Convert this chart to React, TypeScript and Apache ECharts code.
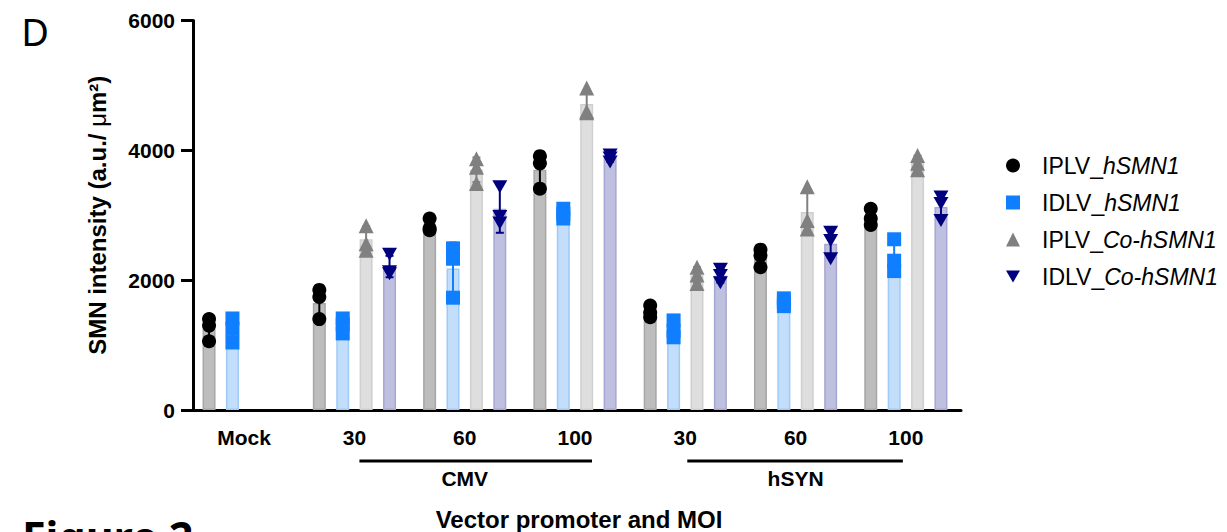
import React, { useEffect, useRef } from 'react';
import * as echarts from 'echarts';

// ---------- data ----------
const categories = ['Mock', 'CMV 30', 'CMV 60', 'CMV 100', 'hSYN 30', 'hSYN 60', 'hSYN 100'];
const tickLabels = ['Mock', '30', '60', '100', '30', '60', '100'];

const promoterLabels = ['CMV', 'hSYN'];
const promoterFirst = [1, 4];
const promoterMid = [2, 5];
const promoterLast = [3, 6];

const seriesNames = ['IPLV_hSMN1', 'IDLV_hSMN1', 'IPLV_Co-hSMN1', 'IDLV_Co-hSMN1'];
const namePlain = ['IPLV_', 'IDLV_', 'IPLV_', 'IDLV_'];
const nameItalic = ['hSMN1', 'hSMN1', 'Co-hSMN1', 'Co-hSMN1'];

const iplvMean = [1250, 1650, 2830, 3700, 1510, 2350, 2960];
const idlvMean = [1230, 1300, 2180, 3020, 1240, 1660, 2350];
const iplvCoMean = [null, 2630, 3700, 4713, 2077, 3050, 3807];
const idlvCoMean = [null, 2210, 3100, 3880, 2067, 2560, 3126];

const iplvSd = [175, 235, 95, 260, 90, 137, 126];
const idlvSd = [185, 116, 400, 75, 130, 60, 250];
const iplvCoSd = [null, 200, 190, 215, 125, 340, 110];
const idlvCoSd = [null, 165, 370, 55, 105, 210, 185];

const iplvPoints = [
  [1400, 1300, 1060],
  [1850, 1740, 1400],
  [2950, 2800, 2770],
  [3910, 3800, 3410],
  [1610, 1500, 1430],
  [2470, 2380, 2200],
  [3100, 2950, 2850],
];
const idlvPoints = [
  [1410, 1250, 1040],
  [1410, 1320, 1180],
  [2490, 2330, 1730],
  [3100, 3020, 2950],
  [1380, 1220, 1120],
  [1720, 1660, 1600],
  [2630, 2300, 2140],
];
const iplvCoPoints = [
  [],
  [2840, 2560, 2460],
  [3870, 3740, 3490],
  [4960, 4600, 4580],
  [2200, 2080, 1950],
  [3440, 2920, 2790],
  [3920, 3800, 3700],
];
const idlvCoPoints = [
  [],
  [2400, 2130, 2100],
  [3440, 2980, 2880],
  [3930, 3880, 3820],
  [2170, 2070, 1960],
  [2740, 2610, 2330],
  [3280, 3180, 2920],
];

const means = [iplvMean, idlvMean, iplvCoMean, idlvCoMean];
const sds = [iplvSd, idlvSd, iplvCoSd, idlvCoSd];
const points = [iplvPoints, idlvPoints, iplvCoPoints, idlvCoPoints];

// ---------- styles ----------
const FONT = '"Liberation Sans", Arial, Helvetica, sans-serif';
const barFill = ['#bdbdbd', '#c3defb', '#dedede', '#bfbfe0'];
const barBorder = ['#a6a6a6', '#9fcaf8', '#cfcfcf', '#a6a6d4'];
const markerColor = ['#000000', '#0f7fff', '#808080', '#00007f'];
const markerSymbol = ['circle', 'rect', 'triangle', 'path://M0,0L14,0L7,12Z'];
const markerSize: any[] = [14, 14, 15, [15, 13]];
const BAR_W = 13;
const SLOT = 23.4;
const slotOffset = (k: number) => (k - 1.5) * SLOT;

export default function App() {
  const ref = useRef<HTMLDivElement>(null);

  useEffect(() => {
    if (!ref.current) return;
    const chart = echarts.init(ref.current, null, { renderer: 'svg' });

    const barSeries = means.map((m, s) => ({
      type: 'bar',
      name: 'bar ' + seriesNames[s],
      data: m,
      barWidth: BAR_W,
      barGap: ((SLOT - BAR_W) / BAR_W) * 100 + '%',
      itemStyle: { color: barFill[s], borderColor: barBorder[s], borderWidth: 1.5 },
      z: 2,
      silent: true,
    }));

    const errSeries = means.map((m, s) => ({
      type: 'custom',
      name: 'err ' + seriesNames[s],
      z: 4,
      silent: true,
      encode: { x: 0, y: [1, 2] },
      data: m
        .map((v, i) => (v == null ? null : [i, v - (sds[s][i] as number), v + (sds[s][i] as number)]))
        .filter((d) => d != null),
      renderItem: (params: any, api: any) => {
        const i = api.value(0);
        const top = api.coord([i, api.value(2)]);
        const bot = api.coord([i, api.value(1)]);
        const x = top[0] + slotOffset(s);
        const cap = 4;
        const st = { stroke: markerColor[s], lineWidth: 2 };
        return {
          type: 'group',
          children: [
            { type: 'line', shape: { x1: x, y1: top[1], x2: x, y2: bot[1] }, style: st },
            { type: 'line', shape: { x1: x - cap, y1: top[1], x2: x + cap, y2: top[1] }, style: st },
            { type: 'line', shape: { x1: x - cap, y1: bot[1], x2: x + cap, y2: bot[1] }, style: st },
          ],
        };
      },
    }));

    const scatterSeries = points.map((p, s) => ({
      type: 'scatter',
      name: seriesNames[s],
      data: p.flatMap((arr, i) => arr.map((v) => [i, v])),
      symbol: markerSymbol[s],
      symbolSize: markerSize[s],
      symbolOffset: [slotOffset(s), 0],
      itemStyle: { color: markerColor[s], opacity: 1 },
      z: 5,
    }));

    const option: any = {
      animation: false,
      grid: { left: 189, top: 20.5, width: 772, height: 389.5, outerBoundsMode: 'none' },
      legend: {
        orient: 'vertical',
        left: 1001,
        top: 149,
        itemWidth: 14,
        itemHeight: 14,
        itemGap: 14,
        selectedMode: false,
        data: seriesNames.map((n, s) => ({ name: n, icon: markerSymbol[s] })),
        formatter: (name: string) => {
          const s = seriesNames.indexOf(name);
          return `{n|${namePlain[s]}}{i|${nameItalic[s]}}`;
        },
        textStyle: {
          rich: {
            n: { fontFamily: FONT, fontSize: 23, color: '#000', lineHeight: 26, padding: [0, 0, 0, 17] },
            i: { fontFamily: FONT, fontSize: 23, color: '#000', lineHeight: 26, fontStyle: 'italic' },
          },
        },
      },
      xAxis: {
        type: 'category',
        data: categories,
        axisLine: { lineStyle: { color: '#000', width: 3 } },
        axisTick: { alignWithLabel: true, interval: 0, length: 12, lineStyle: { color: '#000', width: 3 } },
        axisLabel: {
          interval: 0,
          formatter: (_v: string, i: number) => tickLabels[i],
          color: '#000',
          fontFamily: FONT,
          fontWeight: 'bold',
          fontSize: 21,
          margin: 17,
        },
        splitLine: { show: false },
      },
      yAxis: {
        type: 'value',
        min: 0,
        max: 6000,
        interval: 2000,
        offset: -4,
        axisLine: { show: true, lineStyle: { color: '#000', width: 3 } },
        axisTick: { show: true, length: 12, lineStyle: { color: '#000', width: 3 } },
        axisLabel: {
          color: '#000',
          fontFamily: FONT,
          fontWeight: 'bold',
          fontSize: 21,
          margin: 18,
          formatter: (v: number) => String(v),
        },
        splitLine: { show: false },
      },
      series: [...barSeries, ...errSeries, ...scatterSeries],
    };

    chart.setOption(option);

    const px = (i: number) => chart.convertToPixel({ xAxisIndex: 0 }, categories[i]) as number;
    const pyMid = chart.convertToPixel({ yAxisIndex: 0 }, 3000) as number;
    const startPad = [5, 2];
    const endPad = [17, -3];

    const graphics: any[] = [];
    promoterLabels.forEach((lab, g) => {
      graphics.push({
        type: 'line',
        shape: { x1: px(promoterFirst[g]) + startPad[g], y1: 461, x2: px(promoterLast[g]) + endPad[g], y2: 461 },
        style: { stroke: '#000', lineWidth: 3 },
      });
      graphics.push({
        type: 'text',
        x: px(promoterMid[g]),
        y: 478,
        style: { text: lab, fontFamily: FONT, fontWeight: 'bold', fontSize: 21, fill: '#000', align: 'center', verticalAlign: 'middle' },
      });
    });
    graphics.push({
      type: 'text',
      x: (px(0) + px(6)) / 2 + 4,
      y: 519,
      style: {
        text: 'Vector promoter and MOI',
        fontFamily: FONT,
        fontWeight: 'bold',
        fontSize: 24,
        fill: '#000',
        align: 'center',
        verticalAlign: 'middle',
      },
    });
    graphics.push({
      type: 'text',
      x: 97,
      y: pyMid,
      rotation: Math.PI / 2,
      style: {
        text: '{b|SMN intensity (a.u./ }{u|μ}{b|m²)}',
        align: 'center',
        verticalAlign: 'middle',
        rich: {
          b: { fontFamily: FONT, fontWeight: 'bold', fontSize: 24, fill: '#000' },
          u: { fontFamily: FONT, fontWeight: 'normal', fontSize: 24, fill: '#000' },
        },
      },
    });
    graphics.push({
      type: 'text',
      x: 35,
      y: 31,
      style: { text: 'D', fontFamily: '"Noto Sans", sans-serif', fontSize: 38, fill: '#000', align: 'center', verticalAlign: 'middle' },
    });
    graphics.push({
      type: 'text',
      x: 22,
      y: 536,
      style: {
        text: 'Figure 2',
        fontFamily: '"Noto Sans", sans-serif',
        fontWeight: 'bold',
        fontSize: 43,
        fill: '#000',
        align: 'left',
        verticalAlign: 'middle',
      },
    });

    chart.setOption({ graphic: graphics });

    return () => chart.dispose();
  }, []);

  return (
    <div
      ref={ref}
      style={{ position: 'absolute', left: 0, top: 0, width: 1227, height: 532, overflow: 'hidden', background: '#fff' }}
    />
  );
}
